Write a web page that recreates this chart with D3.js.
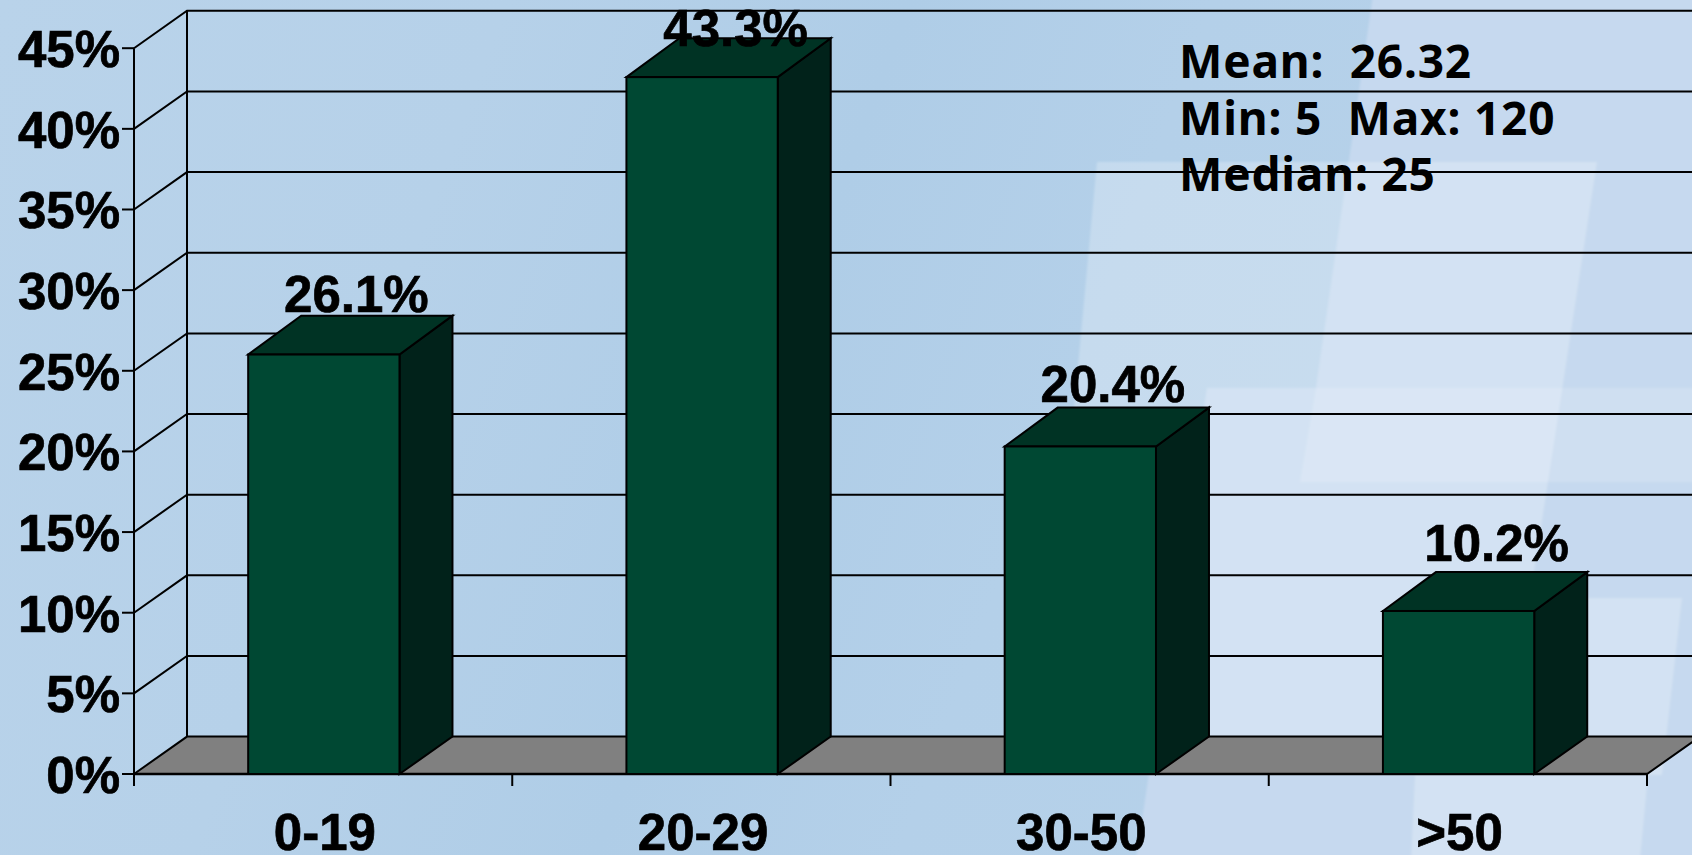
<!DOCTYPE html>
<html><head><meta charset="utf-8">
<script src="https://cdn.jsdelivr.net/npm/d3@7/dist/d3.min.js"></script>
<style>html,body{margin:0;padding:0;background:#b5d0e8;overflow:hidden}svg{display:block}</style>
</head><body><svg id="c" width="1692" height="855"></svg>
<script>
const categories = ["0-19","20-29","30-50",">50"];
const values = [26.1,43.3,20.4,10.2];
const valueLabels = ["26.1%","43.3%","20.4%","10.2%"];
const yTicks = [0,5,10,15,20,25,30,35,40,45];
const notes = ["Mean:  26.32","Min: 5  Max: 120","Median: 25"];

const svg = d3.select("#c");
const W = 1692, H = 855;
const x0 = 134, x1 = 1647, y0 = 774, y45 = 48.2, dx = 53, dy = -37.4;
const x = d3.scaleBand().domain(categories).range([x0+0.7,x1+0.7]).paddingInner(0.6).paddingOuter(0.3);
const y = d3.scaleLinear().domain([0,45]).range([y0,y45]);
const line = d3.line();

// background
const defs = svg.append("defs");
const g = defs.append("linearGradient").attr("id","bg").attr("gradientUnits","userSpaceOnUse")
  .attr("x1",0).attr("y1",0).attr("x2",1782).attr("y2",655);
[[0,"#b9d3ea"],[0.25,"#b6d1e9"],[0.45,"#afcde7"],[0.6,"#b4d0e9"],[1,"#b8d3ea"]].forEach(s=>g.append("stop").attr("offset",s[0]).attr("stop-color",s[1]));
defs.append("filter").attr("id","soft").attr("x","-5%").attr("y","-5%").attr("width","110%").attr("height","110%")
  .append("feGaussianBlur").attr("stdDeviation",1.2);
svg.append("rect").attr("width",W).attr("height",H).attr("fill","url(#bg)");
const bgShapes = [
  {p:[[1373,-5],[W+5,-5],[W+5,H+5],[1136,H+5],[1207,388],[1316,388]],f:"#c6d9ef",o:1},
  {p:[[1097,162],[1597,162],[1548,482],[1530,598],[1682,598],[1662,775],[1040,775]],f:"#fff",o:.24},
  {p:[[1316,388],[W+5,388],[W+5,482],[1300,482]],f:"#fff",o:.16},
  {p:[[1415,775],[1648,775],[1640,H+5],[1411,H+5]],f:"#fff",o:.24}
];
svg.append("g").attr("filter","url(#soft)").selectAll("polygon").data(bgShapes).join("polygon")
  .attr("points",d=>d.p.join(" ")).attr("fill",d=>d.f).attr("opacity",d=>d.o);

// back wall grid
const gridG = svg.append("g").attr("stroke","#000").attr("fill","none");
yTicks.forEach(t=>{
  if(t>0) gridG.append("path").attr("d",line([[x0,y(t)],[x0+dx,y(t)+dy],[W,y(t)+dy]])).attr("stroke-width",2);
  gridG.append("path").attr("d",line([[x0-12,y(t)],[x0,y(t)]])).attr("stroke-width",2);
});
gridG.append("path").attr("d",line([[x0+dx,y(0)+dy],[x0+dx,y(45)+dy]])).attr("stroke-width",2);
gridG.append("path").attr("d",line([[x0,y(45)],[x0,y0+12]])).attr("stroke-width",2);

// floor
svg.append("polygon").attr("points",[[x0,y0],[x0+dx,y0+dy],[W,y0+dy],[x1+dx,y0+dy],[x1,y0]].join(" "))
  .attr("fill","#808080").attr("stroke","#000").attr("stroke-width",2);
svg.append("path").attr("d",line([[x1+dx,y0+dy],[W,y0+dy]])).attr("stroke","#000").attr("stroke-width",2.5);
svg.append("path").attr("d",line([[x0,y0],[x1,y0]])).attr("stroke","#000").attr("stroke-width",2.5);

// x ticks
const xTickPos = d3.range(categories.length+1).map(i=>x0+i*(x1-x0)/categories.length);
svg.selectAll("path.xt").data(xTickPos).join("path").attr("class","xt")
  .attr("d",d=>line([[d,y0],[d,y0+12]])).attr("stroke","#000").attr("stroke-width",2);

// bars: the front edge of each top sits a little below the scale value, as in the 3-D original
const frontDrop = 1.5;
const bars = svg.selectAll("g.bar").data(values).join("g").attr("class","bar");
const bw = x.bandwidth();
const gx = (d,i)=>x(categories[i]);
bars.append("polygon").attr("fill","#01221a").attr("stroke","#000").attr("stroke-width",2)
  .attr("points",(d,i)=>{const a=gx(d,i)+bw;return [[a,y0],[a+dx,y0+dy],[a+dx,y(d)+dy],[a,y(d)+frontDrop]].join(" ")});
bars.append("polygon").attr("fill","#003324").attr("stroke","#000").attr("stroke-width",2)
  .attr("points",(d,i)=>{const a=gx(d,i);return [[a,y(d)+frontDrop],[a+dx,y(d)+dy],[a+bw+dx,y(d)+dy],[a+bw,y(d)+frontDrop]].join(" ")});
bars.append("rect").attr("fill","#004833").attr("stroke","#000").attr("stroke-width",2)
  .attr("x",(d,i)=>gx(d,i)).attr("y",d=>y(d)+frontDrop).attr("width",bw).attr("height",d=>y0-y(d)-frontDrop);

const font = "'Liberation Sans',Arial,sans-serif";
const heavy = s => s.attr("stroke","#000").attr("stroke-width",0.7).attr("fill","#000");
// value labels: the chart engine nudged each one a little from its bar
const labelNudgeX = [32.5,33.5,32.5,38];
const labelNudgeY = [-4,8,-5.5,-11];
svg.selectAll("text.v").data(values).join("text").attr("class","v")
  .attr("x",(d,i)=>gx(d,i)+bw/2+labelNudgeX[i]).attr("y",(d,i)=>y(d)+dy+labelNudgeY[i])
  .attr("text-anchor","middle").attr("font-family",font).attr("font-weight",700).attr("font-size",51)
  .call(heavy).text((d,i)=>valueLabels[i]);
svg.selectAll("text.yl").data(yTicks).join("text").attr("class","yl")
  .attr("x",120).attr("y",d=>y(d)+19).attr("text-anchor","end")
  .attr("font-family",font).attr("font-weight",700).attr("font-size",51).call(heavy).text(d=>d+"%");
svg.selectAll("text.xl").data(categories).join("text").attr("class","xl")
  .attr("x",d=>x(d)+bw/2+1).attr("y",850).attr("text-anchor","middle")
  .attr("font-family",font).attr("font-weight",700).attr("font-size",51).call(heavy).text(d=>d);
svg.selectAll("text.n").data(notes).join("text").attr("class","n")
  .attr("x",1179).attr("y",(d,i)=>78+i*56.5).style("white-space","pre").style("letter-spacing","0.8px")
  .attr("font-family","'Noto Sans',sans-serif").attr("font-weight",700).attr("font-size",46).attr("fill","#000").text(d=>d);
</script></body></html>
